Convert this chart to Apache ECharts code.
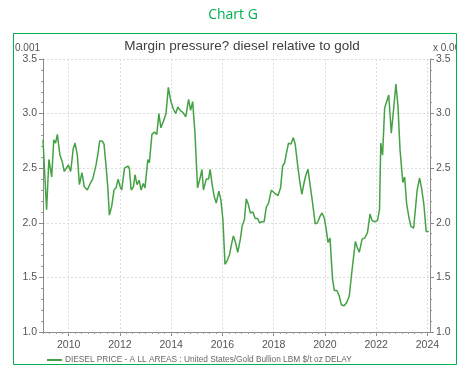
<!DOCTYPE html>
<html>
<head>
<meta charset="utf-8">
<script src="https://cdn.jsdelivr.net/npm/echarts@6/dist/echarts.min.js"></script>
<style>html,body{margin:0;padding:0;background:#fff}#c{width:466px;height:373px}</style>
</head>
<body>
<div id="c"></div>
<script>
const years = [2009.00,2009.14,2009.23,2009.34,2009.42,2009.49,2009.56,2009.66,2009.75,2009.83,2009.99,
2010.08,2010.18,2010.25,2010.34,2010.42,2010.52,2010.61,2010.73,2010.84,2010.94,
2011.07,2011.15,2011.21,2011.31,2011.38,2011.46,2011.53,2011.59,2011.68,2011.77,2011.85,2011.93,
2012.01,2012.07,2012.18,2012.31,2012.37,2012.44,2012.53,2012.59,2012.67,2012.75,2012.83,2012.91,2012.98,
2013.09,2013.15,2013.25,2013.35,2013.44,2013.52,2013.60,2013.70,2013.80,2013.89,2013.99,
2014.09,2014.18,2014.26,2014.35,2014.46,2014.57,2014.68,2014.76,2014.84,2014.93,
2015.03,2015.13,2015.20,2015.26,2015.37,2015.46,2015.52,2015.60,2015.68,2015.76,2015.86,2015.94,
2016.02,2016.10,2016.18,2016.28,2016.37,2016.43,2016.51,2016.60,2016.70,2016.77,2016.86,2016.93,
2017.01,2017.09,2017.19,2017.28,2017.37,2017.45,2017.54,2017.63,2017.71,2017.80,2017.91,
2018.04,2018.17,2018.27,2018.35,2018.43,2018.50,2018.58,2018.67,2018.77,2018.84,2018.95,
2019.03,2019.10,2019.18,2019.26,2019.34,2019.42,2019.52,2019.62,2019.71,2019.81,2019.89,2019.98,
2020.05,2020.12,2020.20,2020.25,2020.30,2020.37,2020.47,2020.56,2020.64,2020.75,2020.85,2020.95,
2021.06,2021.19,2021.27,2021.34,2021.45,2021.55,2021.66,2021.76,2021.84,2021.94,
2022.05,2022.13,2022.18,2022.25,2022.33,2022.41,2022.49,2022.59,2022.68,2022.77,2022.85,2022.93,
2023.04,2023.11,2023.19,2023.27,2023.35,2023.46,2023.53,2023.60,2023.69,2023.77,2023.86,2023.95,2024.05];
const ratio = [2.76,2.12,2.58,2.42,2.76,2.73,2.81,2.62,2.56,2.47,2.53,
2.47,2.68,2.73,2.62,2.35,2.46,2.33,2.30,2.36,2.40,
2.53,2.64,2.75,2.75,2.72,2.52,2.32,2.07,2.15,2.30,2.32,2.40,
2.33,2.30,2.50,2.52,2.50,2.30,2.33,2.44,2.35,2.39,2.30,2.36,2.32,
2.58,2.55,2.81,2.83,2.81,3.00,2.87,2.93,3.00,3.24,3.11,
3.04,3.00,3.06,3.03,3.01,2.97,3.13,3.03,3.11,
2.82,2.32,2.41,2.49,2.30,2.40,2.40,2.49,2.35,2.24,2.18,2.29,2.21,
2.03,1.62,1.65,1.71,1.82,1.88,1.82,1.73,1.85,1.97,2.03,2.22,
2.17,2.09,2.10,2.04,2.04,2.00,2.01,2.01,2.14,2.18,2.30,
2.27,2.25,2.32,2.52,2.55,2.64,2.73,2.72,2.78,2.72,2.50,
2.36,2.26,2.36,2.44,2.49,2.35,2.18,1.99,2.00,2.06,2.09,2.04,
1.94,1.82,1.86,1.66,1.48,1.38,1.38,1.33,1.25,1.24,1.27,1.33,
1.57,1.83,1.77,1.73,1.85,1.86,1.91,2.08,2.02,2.01,
2.02,2.12,2.73,2.62,3.05,3.11,3.17,2.82,3.04,3.27,3.07,2.67,
2.37,2.42,2.17,2.06,1.97,1.95,1.94,2.30,2.41,2.32,2.17,1.92,1.92];
const xLabels = [2010,2012,2014,2016,2018,2020,2022,2024];
const xMinor = [];
for (let y = 2009; y <= 2024; y++) for (let q = 0; q < 4; q++) { const v = y + q/4; if (v <= 2024.1) xMinor.push(v); }
const seriesName = 'DIESEL PRICE - A LL AREAS : United States/Gold Bullion LBM $/t oz DELAY';
const chartTitle = 'Margin pressure? diesel relative to gold';

const chart = echarts.init(document.getElementById('c'), null, {renderer:'canvas'});
const font = 'Liberation Sans, Arial, sans-serif';
const green = '#44a244';
const yAxisCommon = {
  type:'value', min:1.0, max:3.5, interval:0.5,
  axisLine:{show:true, lineStyle:{color:'#8a8a8a', width:1}},
  axisTick:{show:true, length:4, lineStyle:{color:'#8a8a8a'}},
  minorTick:{show:true, splitNumber:5, length:2, lineStyle:{color:'#9a9a9a'}},
  axisLabel:{color:'#555', fontSize:10.5, fontFamily:font, formatter:v=>v.toFixed(1)}
};
chart.setOption({
  animation:false,
  grid:{left:43, right:36, top:59, bottom:41, containLabel:false},
  title:[
    {text:'Chart G', left:'center', top:3, textStyle:{color:'#00b050', fontSize:14, fontWeight:'normal', fontFamily:'Open Sans, sans-serif'}},
    {text:chartTitle, left:237, textAlign:'center', top:34, textStyle:{color:'#404040', fontSize:13.5, fontWeight:'normal', fontFamily:font}}
  ],
  legend:{show:true, left:42, top:351, itemWidth:15, itemHeight:2, itemGap:4, icon:'rect',
    textStyle:{color:'#666', fontSize:8.3, fontFamily:font, padding:[0,0,0,-2]}, data:[seriesName]},
  xAxis:[
    {type:'value', min:2009.0, max:2024.1,
      axisLine:{show:true, lineStyle:{color:'#8a8a8a'}},
      axisTick:{show:true, length:4, customValues:xLabels, lineStyle:{color:'#8a8a8a'}},
      axisLabel:{customValues:xLabels, color:'#555', fontSize:10.5, fontFamily:font, margin:8, formatter:v=>String(Math.round(v))},
      splitLine:{show:true, lineStyle:{color:'#dcdcdc', type:[2,2]}}},
    {type:'value', min:2009.0, max:2024.1, position:'bottom',
      axisLine:{show:false}, axisLabel:{show:false}, splitLine:{show:false},
      axisTick:{show:true, length:2, customValues:xMinor, lineStyle:{color:'#9a9a9a'}}}
  ],
  yAxis:[
    Object.assign({}, yAxisCommon, {position:'left',
      splitLine:{show:true, lineStyle:{color:'#dcdcdc', type:[2,2]}},
      axisLabel:Object.assign({}, yAxisCommon.axisLabel, {margin:6})}),
    Object.assign({}, yAxisCommon, {position:'right', splitLine:{show:false},
      axisLabel:Object.assign({}, yAxisCommon.axisLabel, {margin:6})})
  ],
  series:[{
    name:seriesName, type:'line', xAxisIndex:0, yAxisIndex:0,
    data:years.map((y,i)=>[y, ratio[i]]), showSymbol:false, symbol:'none',
    lineStyle:{color:green, width:1.5}, itemStyle:{color:green}
  }],
  graphic:[
    {type:'text', x:40, y:43, style:{text:'x 0.001', fill:'#555', font:'10px '+font, textAlign:'right'}, z:10},
    {type:'text', x:433, y:43, style:{text:'x 0.001', fill:'#555', font:'10px '+font, textAlign:'left'}, z:10},
    {type:'rect', shape:{x:0, y:25, width:13, height:348}, style:{fill:'#fff'}, z:20},
    {type:'rect', shape:{x:457, y:25, width:9, height:348}, style:{fill:'#fff'}, z:20},
    {type:'rect', shape:{x:13.5, y:33.5, width:443, height:331}, style:{fill:'none', stroke:'#00b050', lineWidth:1}, z:30}
  ]
});
</script>
</body>
</html>
